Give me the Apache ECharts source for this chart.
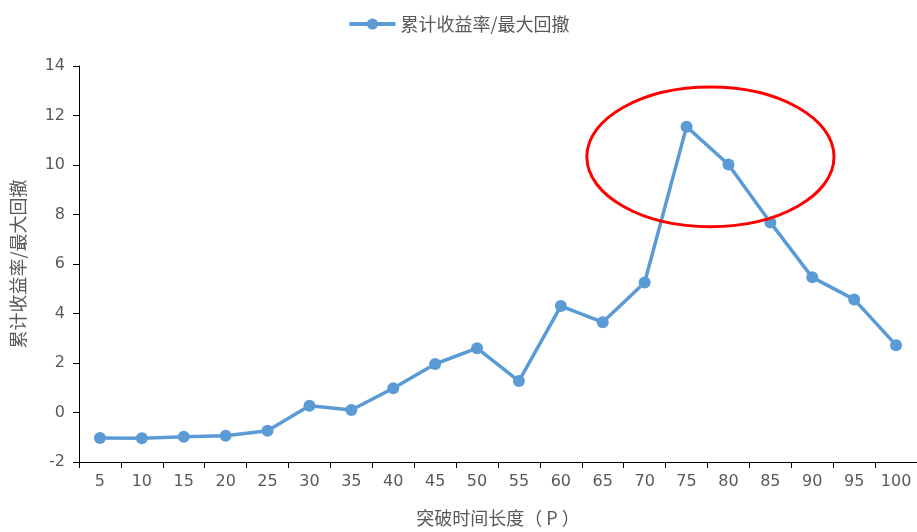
<!DOCTYPE html>
<html><head><meta charset="utf-8">
<script src="https://cdn.jsdelivr.net/npm/echarts@6/dist/echarts.min.js"></script>
<style>html,body{margin:0;padding:0;background:#fff}#c{width:917px;height:532px}</style>
</head><body><div id="c"></div>
<script>
const categories = ['5','10','15','20','25','30','35','40','45','50','55','60','65','70','75','80','85','90','95','100'];
const values = [-1.03,-1.04,-0.98,-0.94,-0.74,0.27,0.1,0.98,1.96,2.6,1.27,4.3,3.65,5.25,11.55,10.02,7.68,5.46,4.57,2.72];
const seriesName = '累计收益率/最大回撤';
const xName = '突破时间长度（ P ）';
const yName = '累计收益率/最大回撤';
const yTicks = {min: -2, max: 14, interval: 2};
// annotation ellipse in data space: center category index, value; radii in categories and value units
const ellipseAnno = {cx: 14.57, cy: 10.33, rxCat: 2.95, ryVal: 2.82};

const cjk = '"Noto Sans CJK SC", sans-serif';
const num = '"DejaVu Sans", "Noto Sans CJK SC", sans-serif';
const chart = echarts.init(document.getElementById('c'));
chart.setOption({
  animation: false,
  textStyle: {fontFamily: cjk},
  legend: {
    top: 10, left: 'center',
    itemWidth: 46, itemHeight: 14, itemGap: 6,
    lineStyle: {width: 4, color: '#5B9BD5'},
    textStyle: {fontSize: 18, color: '#595959', fontFamily: cjk},
    data: [seriesName]
  },
  grid: {left: 79, right: -1, top: 66, bottom: 69, containLabel: false},
  xAxis: {
    type: 'category', data: categories, boundaryGap: true,
    name: xName, nameLocation: 'middle', nameGap: 47,
    nameTextStyle: {fontSize: 18, color: '#595959', fontFamily: cjk},
    axisLine: {onZero: false, lineStyle: {color: '#000', width: 1}},
    axisTick: {show: true, alignWithLabel: false, length: 6, lineStyle: {color: '#000'}},
    axisLabel: {fontSize: 16, color: '#595959', margin: 12, fontFamily: num}
  },
  yAxis: {
    type: 'value', min: yTicks.min, max: yTicks.max, interval: yTicks.interval,
    name: yName, nameLocation: 'middle', nameGap: 52, nameRotate: 90,
    nameTextStyle: {fontSize: 18, color: '#595959', fontFamily: cjk},
    axisLine: {show: true, lineStyle: {color: '#000', width: 1}},
    axisTick: {show: true, length: 6, lineStyle: {color: '#000'}},
    axisLabel: {fontSize: 16, color: '#595959', margin: 14, fontFamily: num},
    splitLine: {show: false}
  },
  series: [{
    name: seriesName, type: 'line', data: values,
    symbol: 'circle', symbolSize: 12,
    lineStyle: {color: '#5B9BD5', width: 3.5},
    itemStyle: {color: '#5B9BD5'}
  }]
});
// interpolate fractional category position from neighbouring category centres
const i0 = Math.floor(ellipseAnno.cx), f = ellipseAnno.cx - i0;
const p0 = chart.convertToPixel({gridIndex: 0}, [i0, ellipseAnno.cy]);
const p1 = chart.convertToPixel({gridIndex: 0}, [i0 + 1, ellipseAnno.cy + ellipseAnno.ryVal]);
const step = p1[0] - p0[0];
const cx = p0[0] + f * step, cy = p0[1];
chart.setOption({
  graphic: [{
    type: 'ellipse', z: 100,
    shape: {cx: cx, cy: cy, rx: ellipseAnno.rxCat * step, ry: Math.abs(p1[1] - p0[1])},
    style: {fill: 'none', stroke: '#FF0000', lineWidth: 3}
  }]
});
</script></body></html>
